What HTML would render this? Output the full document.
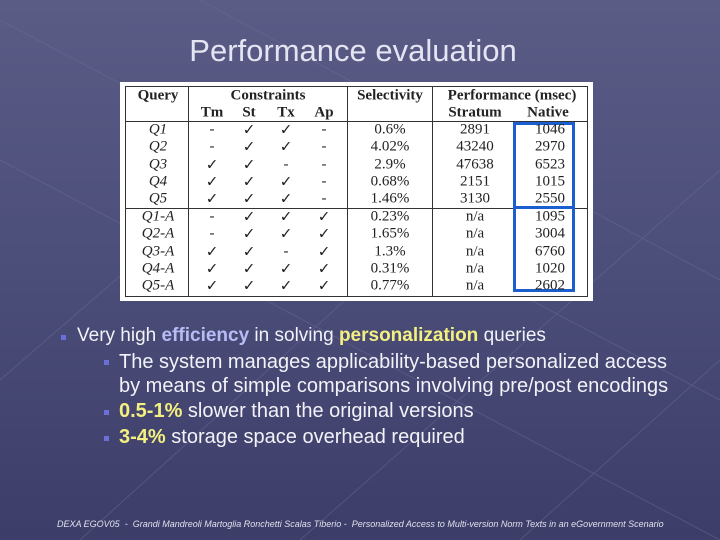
<!DOCTYPE html>
<html><head><meta charset="utf-8"><style>
body{margin:0;width:720px;height:540px;overflow:hidden;font-family:"Liberation Sans",sans-serif}
#slide{position:relative;width:720px;height:540px;background:linear-gradient(180deg,#5a5c86 0%,#4c4e7a 50%,#3c3d68 100%);overflow:hidden}
.t{position:absolute;white-space:nowrap}
#tbl{position:absolute;left:120px;top:82px;width:473px;height:219px;background:#fff}
#tbl .c{position:absolute;font-family:"Liberation Serif",serif;font-size:15px;color:#222;transform:translate(-50%,-50%);white-space:nowrap}
.ln{position:absolute;background:#333}
.b{position:absolute;width:5px;height:5px;background:#6a70d8}
</style></head><body>
<div id="slide">
<svg width="720" height="540" style="position:absolute;left:0;top:0">
<g stroke="#6a6c94" stroke-width="1" opacity="0.5" fill="none">
<path d="M0 380 L300 120 M80 540 L500 160 M300 540 L720 170 M520 540 L720 360 M0 160 L720 540 M0 20 L720 400 M200 0 L720 280"/>
</g></svg>
<div class="t" style="left:0;width:706px;text-align:center;top:33px;font-size:31px;color:#e4e4f2">Performance evaluation</div>
<div id="tbl">
<div class="ln" style="left:5px;top:4px;width:463px;height:1px"></div>
<div class="ln" style="left:5px;top:214px;width:463px;height:1px"></div>
<div class="ln" style="left:5px;top:4px;width:1px;height:211px"></div>
<div class="ln" style="left:467px;top:4px;width:1px;height:211px"></div>
<div class="ln" style="left:68px;top:4px;width:1px;height:211px"></div>
<div class="ln" style="left:227px;top:4px;width:1px;height:211px"></div>
<div class="ln" style="left:312px;top:4px;width:1px;height:211px"></div>
<div class="ln" style="left:5px;top:39px;width:463px;height:1px"></div>
<div class="ln" style="left:5px;top:126px;width:463px;height:1px"></div>
<div style="position:absolute;left:393px;top:40px;width:62px;height:170px;border:3px solid #1a5ed0;box-sizing:border-box"></div>
<div style="position:absolute;left:393px;top:124px;width:62px;height:3px;background:#1a5ed0"></div>
</div>
<div class="b" style="left:61px;top:335px"></div>
<div class="t" style="left:77px;top:325px;font-size:19px;color:#f2f2f8">Very high <b style="color:#b8bcf4">efficiency</b> in solving <b style="color:#f4f080">personalization</b> queries</div>
<div class="b" style="left:104px;top:360px"></div>
<div class="t" style="left:119px;top:350px;font-size:20px;color:#f2f2f8;line-height:24px">The system manages applicability-based personalized access<br>by means of simple comparisons involving pre/post encodings</div>
<div class="b" style="left:104px;top:410px"></div>
<div class="t" style="left:119px;top:400px;font-size:20px;color:#f2f2f8"><b style="color:#f4f080">0.5-1%</b> slower than the original versions</div>
<div class="b" style="left:104px;top:436px"></div>
<div class="t" style="left:119px;top:426px;font-size:20px;color:#f2f2f8"><b style="color:#f4f080">3-4%</b> storage space overhead required</div>
<div class="t" style="left:57px;top:519px;font-size:9px;font-style:italic;color:#e0e0ee">DEXA EGOV05 &nbsp;- &nbsp;Grandi Mandreoli Martoglia Ronchetti Scalas Tiberio - &nbsp;Personalized Access to Multi-version Norm Texts in an eGovernment Scenario</div>
</div>
<script>
const queries=["Q1","Q2","Q3","Q4","Q5","Q1-A","Q2-A","Q3-A","Q4-A","Q5-A"];
const tm=["-","-","✓","✓","✓","-","-","✓","✓","✓"];
const st=["✓","✓","✓","✓","✓","✓","✓","✓","✓","✓"];
const tx=["✓","✓","-","✓","✓","✓","✓","-","✓","✓"];
const ap=["-","-","-","-","-","✓","✓","✓","✓","✓"];
const selectivity=["0.6%","4.02%","2.9%","0.68%","1.46%","0.23%","1.65%","1.3%","0.31%","0.77%"];
const stratum=["2891","43240","47638","2151","3130","n/a","n/a","n/a","n/a","n/a"];
const nativeT=["1046","2970","6523","1015","2550","1095","3004","6760","1020","2602"];
const tbl=document.getElementById('tbl');
function cell(x,y,txt,name,extra){
 const d=document.createElement('div');d.className='c';
 d.style.left=x+'px';d.style.top=y+'px';d.textContent=txt;
 if(extra)Object.assign(d.style,extra);
 
 
 tbl.appendChild(d);
}
const B={fontWeight:'bold'};
cell(38,14,"Query","header-query",B);
cell(148,14,"Constraints","header-constraints",B);
cell(270,14,"Selectivity","header-selectivity",B);
cell(392,14,"Performance (msec)","header-performance",B);
cell(92,31,"Tm","header-tm",B);cell(129,31,"St","header-st",B);
cell(166,31,"Tx","header-tx",B);cell(204,31,"Ap","header-ap",B);
cell(355,31,"Stratum","header-stratum",B);cell(428,31,"Native","header-native",B);
queries.forEach((q,i)=>{
 const y=48+i*17.3+(i>=5?0.5:0);
 cell(38,y,q,'query-'+q,{fontStyle:'italic'});
 cell(92,y,tm[i],'tm-'+q);cell(129,y,st[i],'st-'+q);
 cell(166,y,tx[i],'tx-'+q);cell(204,y,ap[i],'ap-'+q);
 cell(270,y,selectivity[i],'selectivity-'+q);
 cell(355,y,stratum[i],'stratum-'+q);
 cell(430,y,nativeT[i],'native-'+q);
});
</script>
</body></html>
